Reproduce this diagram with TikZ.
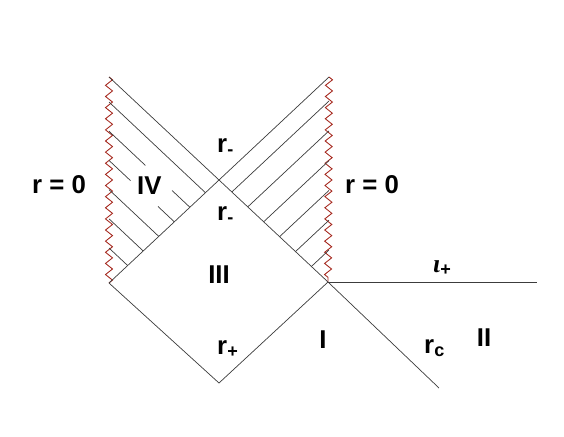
\documentclass[tikz,border=0pt]{standalone}
\usepackage{fontspec}
\setmainfont{Liberation Sans}
\newfontfamily\greekserif{Liberation Serif}
\usetikzlibrary{calc,intersections,decorations.pathmorphing}
\definecolor{wigcol}{RGB}{165,40,30}
\definecolor{lncol}{RGB}{60,60,60}
\begin{document}
\begin{tikzpicture}[x=0.03cm,y=-0.03cm,
  ln/.style={draw=lncol,line width=0.6pt},
  wiggle/.style={draw=wigcol,line width=0.75pt,decorate,decoration={zigzag,segment length=9.5pt,amplitude=3pt}},
  lbl/.style={font=\fontsize{22}{25}\selectfont\bfseries,inner sep=0pt}]
\useasboundingbox (0,0) rectangle (564,436);
% key points
\coordinate (TL) at (109,77);
\coordinate (TR) at (329,77);
\coordinate (L) at (109,283);
\coordinate (R) at (328,282);
\coordinate (B) at (219,383);
\coordinate (E) at (537,282);
\coordinate (F) at (439,388);
% singularities r=0
\draw[wiggle] (TL) -- (L);
\draw[wiggle] (TR) -- (R);
% main null lines
\draw[ln,name path=back] (TL) -- (R);
\draw[ln,name path=fwd] (TR) -- (L);
\draw[ln] (L) -- (B) -- (R);
\draw[ln] (R) -- (E);
\draw[ln] (R) -- (F);
% hatching, left region IV
\foreach \k in {0,...,5}{
  \pgfmathsetmacro{\yy}{102+29.2*\k}
  \coordinate (hl\k) at (109,\yy);
  \path[name path=hp] (hl\k) -- ++(218,205);
  \path[name intersections={of=hp and fwd,by={he\k}}];
}
\draw[ln] (hl0) -- (he0);
\draw[ln] (hl1) -- ($(hl1)!0.45!(he1)$);
\draw[ln] ($(hl1)!0.78!(he1)$) -- (he1);
\draw[ln] (hl2) -- ($(hl2)!0.33!(he2)$);
\draw[ln] ($(hl2)!0.75!(he2)$) -- (he2);
\draw[ln] (hl3) -- (he3);
\draw[ln] (hl4) -- (he4);
\draw[ln] (hl5) -- (he5);
% hatching, right region
\foreach \k in {0,...,5}{
  \pgfmathsetmacro{\yy}{101+29.8*\k}
  \coordinate (hr\k) at (329,\yy);
  \path[name path=hq] (hr\k) -- ++(-220,206);
  \path[name intersections={of=hq and back,by={hf\k}}];
  \draw[ln] (hf\k) -- (hr\k);
}
% labels
\node[lbl,anchor=base west] (rz1) at (32,193) {r = 0};
\node[lbl,anchor=base west] (rz2) at (345,193) {r = 0};
\node[lbl,anchor=base west] (iv) at (137,194) {IV};
\node[lbl,anchor=base west] (rm1) at (217,152) {r\textsubscript{-}};
\node[lbl,anchor=base west] (rm2) at (217,220) {r\textsubscript{-}};
\node[lbl] (iii) at (219,275) {III};
\node[lbl,anchor=base west] (rp) at (217,354) {r\textsubscript{+}};
\node[lbl] (one) at (323,340) {I};
\node[lbl,anchor=base west] (rc) at (424,353) {r\textsubscript{c}};
\node[lbl] (two) at (484,338) {II};
\node[lbl,anchor=base west] (scri) at (433,272) {{\greekserif\bfseries\itshape ι}\textsubscript{+}};
\end{tikzpicture}
\end{document}
